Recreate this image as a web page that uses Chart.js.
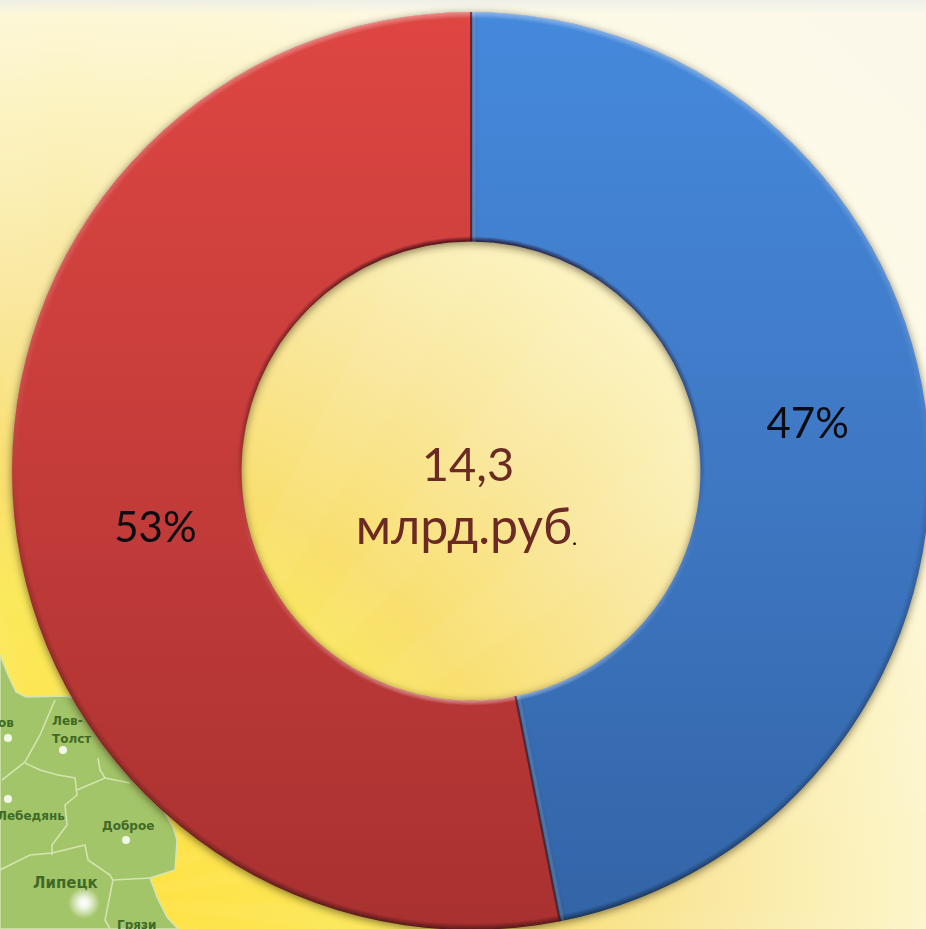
<!DOCTYPE html>
<html>
<head>
<meta charset="utf-8">
<script src="https://cdn.jsdelivr.net/npm/chart.js@4"></script>
<style>
  html, body { margin: 0; padding: 0; width: 926px; height: 929px; overflow: hidden; }
  #page {
    position: relative; width: 926px; height: 929px; overflow: hidden;
    background:
      linear-gradient(to bottom, rgba(236,238,232,0.9) 0px, rgba(255,255,255,0) 14px),
      repeating-conic-gradient(from 0deg at 85px 900px, rgba(255,255,255,0.035) 0deg 6deg, rgba(255,255,255,0) 6deg 13deg),
      radial-gradient(circle 1200px at 85px 900px, #ffe040 0%, #fbe95c 26%, #f9df70 36%, #f9e8a0 52%, #fcf3c0 66%, #fdfae6 80%, #fbf8ea 100%);
  }
  #map { position: absolute; left: 0; top: 0; }
  #map text { font-family: "DejaVu Sans", sans-serif; font-weight: bold; fill: #3f6a26; font-size: 12px; }
  canvas { position: absolute; left: 0; top: 0; }
</style>
</head>
<body>
<div id="page">
  <svg id="map" width="926" height="929">
    <defs>
      <radialGradient id="glow">
        <stop offset="0" stop-color="#ffffff"/>
        <stop offset="0.3" stop-color="#ffffff" stop-opacity="0.85"/>
        <stop offset="1" stop-color="#ffffff" stop-opacity="0"/>
      </radialGradient>
    </defs>
    <path d="M0,655 L8,675 L16,692 L26,697 L63,696 L90,700 L140,770 L173,827 L177,840 L175,870 L150,878 L157,897 L167,917 L178,929 L0,929 Z" fill="#a3c569" stroke="#d5e3b5" stroke-width="1.5"/>
    <g fill="none" stroke="#d3e4ae" stroke-width="1.6">
      <path d="M55,700 L40,735 L25,762 L2,780"/>
      <path d="M25,763 L40,770 L58,775 L75,778 L77,795 L65,805 L67,825 L52,845 L52,855"/>
      <path d="M77,790 L105,778 L130,783"/>
      <path d="M0,870 L30,855 L52,853 L85,845 L88,860 L110,875 L113,880 L105,920 L110,929"/>
      <path d="M113,880 L150,878"/>
      <path d="M98,758 L100,770 L105,778"/>
    </g>
    <text x="-2" y="727">ов</text>
    <text x="52" y="725">Лев-</text>
    <text x="52" y="743">Толст</text>
    <text x="-3" y="820">Лебедянь</text>
    <text x="102" y="830">Доброе</text>
    <text x="33" y="888" style="font-size:15px">Липецк</text>
    <text x="117" y="929">Грязи</text>
    <g fill="#f2f7e6">
      <circle cx="8" cy="738" r="4"/>
      <circle cx="63" cy="750" r="4"/>
      <circle cx="8" cy="799" r="4"/>
      <circle cx="126" cy="840" r="4"/>
    </g>
    <circle cx="84" cy="903" r="16" fill="url(#glow)"/>
  </svg>
  <canvas id="donut" width="942" height="942"></canvas>
</div>
<script>
const categories = ['Синий', 'Красный'];
const shares = [46.9, 53.1];
const percentLabels = ['47%', '53%'];
const centerValue = '14,3';
const centerUnit = 'млрд.руб';

const ink = '#0b0b12';
const brown = '#6b2a24';
// hand nudged from the middle of each ring segment
const labelNudge = [[-6, -13], [27, 24]];

function vertical(ctx, stops) {
    const g = ctx.createLinearGradient(0, 12, 0, 930);
    stops.forEach((s) => g.addColorStop(s[0], s[1]));
    return g;
}

const ringEffects = {
    id: 'ringEffects',
    beforeDatasetDraw(chart) {
        const ctx = chart.ctx;
        ctx.save();
        ctx.shadowColor = 'rgba(50,35,10,0.6)';
        ctx.shadowBlur = 8;
        ctx.shadowOffsetY = 2;
    },
    afterDatasetDraw(chart) {
        const ctx = chart.ctx;
        ctx.restore();
        const arcs = chart.getDatasetMeta(0).data;
        // light comes from above: outer rim bright on top and dark below, the hole the other way
        const outerRim = vertical(ctx, [[0, 'rgba(255,255,255,0.38)'], [0.4, 'rgba(255,255,255,0.08)'], [0.55, 'rgba(0,0,0,0.12)'], [1, 'rgba(0,0,0,0.5)']]);
        const innerRim = vertical(ctx, [[0.24, 'rgba(30,0,10,0.7)'], [0.5, 'rgba(30,0,10,0.15)'], [0.62, 'rgba(255,255,255,0.1)'], [0.76, 'rgba(255,255,255,0.4)']]);
        ctx.save();
        arcs.forEach((a) => {
            const p = a.getProps(['x', 'y', 'startAngle', 'endAngle', 'innerRadius', 'outerRadius']);
            for (let k = 0; k < 6; k++) {
                ctx.globalAlpha = 1 - k / 6;
                ctx.lineWidth = 1;
                ctx.strokeStyle = outerRim;
                ctx.beginPath();
                ctx.arc(p.x, p.y, p.outerRadius - k - 0.5, p.startAngle, p.endAngle);
                ctx.stroke();
                ctx.strokeStyle = innerRim;
                ctx.beginPath();
                ctx.arc(p.x, p.y, p.innerRadius + k * 0.8 + 0.5, p.startAngle, p.endAngle);
                ctx.stroke();
            }
            ctx.globalAlpha = 1;
        });
        // seams: dark line with a soft light edge on the blue side
        const p0 = arcs[0].getProps(['x', 'y', 'startAngle', 'endAngle', 'innerRadius', 'outerRadius']);
        [[p0.startAngle, 1], [p0.endAngle, -1]].forEach((s) => {
            const cos = Math.cos(s[0]);
            const sin = Math.sin(s[0]);
            const nx = -sin * s[1];
            const ny = cos * s[1];
            ctx.lineWidth = 3;
            ctx.strokeStyle = 'rgba(255,255,255,0.12)';
            ctx.beginPath();
            ctx.moveTo(p0.x + cos * p0.innerRadius + nx * 3, p0.y + sin * p0.innerRadius + ny * 3);
            ctx.lineTo(p0.x + cos * p0.outerRadius + nx * 3, p0.y + sin * p0.outerRadius + ny * 3);
            ctx.stroke();
            ctx.lineWidth = 2;
            ctx.strokeStyle = 'rgba(60,10,20,0.6)';
            ctx.beginPath();
            ctx.moveTo(p0.x + cos * p0.innerRadius, p0.y + sin * p0.innerRadius);
            ctx.lineTo(p0.x + cos * p0.outerRadius, p0.y + sin * p0.outerRadius);
            ctx.stroke();
        });
        ctx.restore();
    },
    afterDraw(chart) {
        const ctx = chart.ctx;
        const arcs = chart.getDatasetMeta(0).data;
        ctx.save();
        ctx.textAlign = 'center';
        ctx.textBaseline = 'middle';
        ctx.font = '42px Lato, "Open Sans", sans-serif';
        ctx.fillStyle = ink;
        arcs.forEach((a, i) => {
            const pos = a.tooltipPosition();
            ctx.fillText(percentLabels[i], pos.x + labelNudge[i][0], pos.y + labelNudge[i][1]);
        });
        const cx = arcs[0].x;
        const cy = arcs[0].y;
        ctx.textBaseline = 'alphabetic';
        ctx.fillStyle = brown;
        ctx.font = '47px Lato, "Open Sans", sans-serif';
        ctx.fillText(centerValue, cx - 3, cy + 10);
        ctx.font = '50px Lato, "Open Sans", sans-serif';
        ctx.fillText(centerUnit, cx - 7, cy + 73);
        ctx.fillStyle = '#111';
        ctx.font = '22px Lato, sans-serif';
        ctx.textAlign = 'left';
        ctx.fillText('.', cx + 101, cy + 74);
        ctx.restore();
    }
};

const canvas = document.getElementById('donut');
const c2d = canvas.getContext('2d');

new Chart(c2d, {
    type: 'doughnut',
    data: {
        labels: categories,
        datasets: [{
            data: shares,
            backgroundColor: [
                vertical(c2d, [[0, '#4589dc'], [0.5, '#3f78c4'], [1, '#3264a6']]),
                vertical(c2d, [[0, '#de4642'], [0.5, '#c43c3a'], [1, '#a83130']])
            ],
            borderWidth: 0
        }]
    },
    options: {
        responsive: false,
        animation: false,
        cutout: '50%',
        layout: { padding: 12 },
        plugins: {
            legend: { display: false },
            tooltip: { enabled: false }
        }
    },
    plugins: [ringEffects]
});
</script>
</body>
</html>
